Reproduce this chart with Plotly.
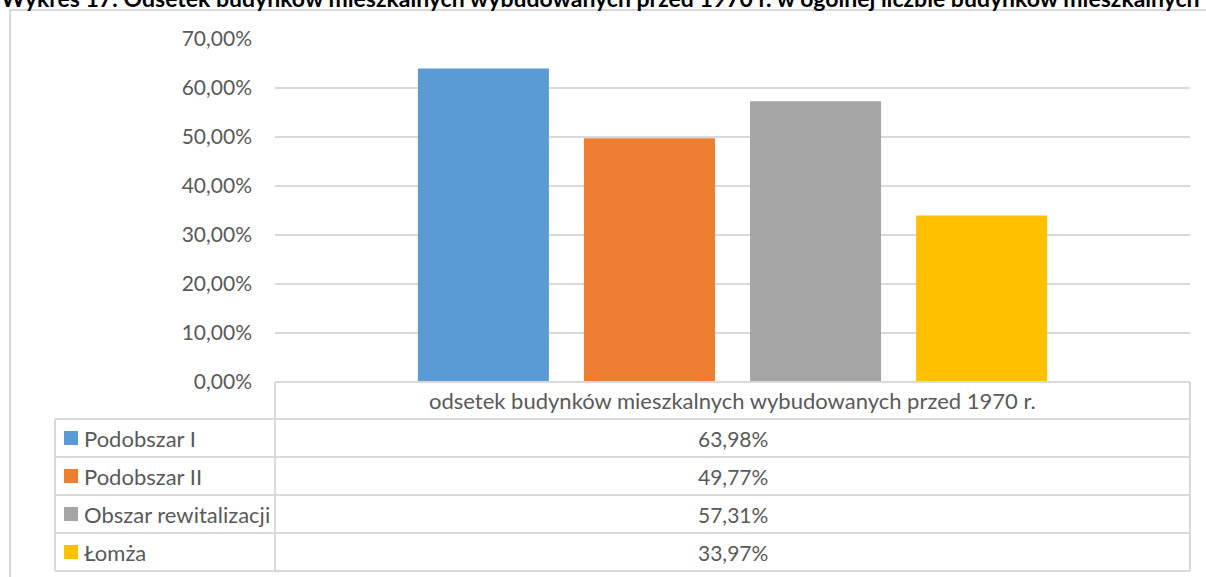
import plotly.graph_objects as go

# Data
category = "odsetek budynków mieszkalnych wybudowanych przed 1970 r."
series = ["Podobszar I", "Podobszar II", "Obszar rewitalizacji", "Łomża"]
values = [0.6398, 0.4977, 0.5731, 0.3397]
colors = ["#5b9bd5", "#ed7d31", "#a5a5a5", "#ffc000"]
title = ("Wykres 17: Odsetek budynków mieszkalnych wybudowanych przed 1970 r. "
         "w ogólnej liczbie budynków mieszkalnych")

W, H = 1206, 577
FONT = "Lato"
GREY = "#595959"
LINE = "#d9d9d9"


def px(x):
    return x / W


def py(y):
    return 1 - y / H


fig = go.Figure()
for name, val, col in zip(series, values, colors):
    fig.add_trace(go.Bar(x=[category], y=[val], name=name, marker_color=col,
                         marker_line_width=0, showlegend=False))

# Table geometry (pixels)
left, mid, right = 55, 275, 1190
rows = [382, 419, 457, 495, 533, 571]

shapes = [
    # outer chart border
    dict(type="rect", xref="paper", yref="paper", x0=px(10), x1=px(1225),
         y0=py(10), y1=py(600), line=dict(color=LINE, width=2)),
]
# horizontal table lines
for i, y in enumerate(rows):
    x0 = mid if i == 0 else left
    shapes.append(dict(type="line", xref="paper", yref="paper", x0=px(x0), x1=px(right),
                       y0=py(y), y1=py(y), line=dict(color=LINE, width=2)))
# vertical table lines
for x, y0 in [(left, rows[1]), (mid, rows[0]), (right, rows[0])]:
    shapes.append(dict(type="line", xref="paper", yref="paper", x0=px(x), x1=px(x),
                       y0=py(y0), y1=py(rows[-1]), line=dict(color=LINE, width=2)))

annotations = [
    dict(text=title, xref="paper", yref="paper", x=px(-1), y=py(-2), xanchor="left",
         yanchor="middle", showarrow=False,
         font=dict(family="Lato", size=23, color="#000000", weight="bold")),
    dict(text=category, xref="paper", yref="paper", x=px((mid + right) / 2),
         y=py((rows[0] + rows[1]) / 2), xanchor="center", yanchor="middle",
         showarrow=False, font=dict(family=FONT, size=22, color=GREY)),
]
for i, (name, val, col) in enumerate(zip(series, values, colors)):
    yc = (rows[i + 1] + rows[i + 2]) / 2
    shapes.append(dict(type="rect", xref="paper", yref="paper", x0=px(64), x1=px(78),
                       y0=py(yc - 7), y1=py(yc + 7), fillcolor=col, line_width=0))
    annotations.append(dict(text=name, xref="paper", yref="paper", x=px(82), y=py(yc),
                            xanchor="left", yanchor="middle", showarrow=False,
                            font=dict(family=FONT, size=22, color=GREY)))
    annotations.append(dict(text=f"{val * 100:.2f}%".replace(".", ","), xref="paper",
                            yref="paper", x=px((mid + right) / 2), y=py(yc),
                            xanchor="center", yanchor="middle", showarrow=False,
                            font=dict(family=FONT, size=21, color=GREY)))

fig.update_layout(
    width=W, height=H,
    margin=dict(l=0, r=0, t=0, b=0, autoexpand=False),
    paper_bgcolor="white", plot_bgcolor="white",
    separators=", ",
    barmode="group", bargap=0.274, bargroupgap=0.211,
    shapes=shapes, annotations=annotations,
    xaxis=dict(domain=[px(mid), px(right)], showticklabels=False, showgrid=False,
               zeroline=False, showline=False, automargin=False),
    yaxis=dict(domain=[py(382), py(39)], range=[0, 0.7], dtick=0.1, tickformat=".2%",
               showgrid=True, gridcolor=LINE, gridwidth=2, zeroline=False,
               ticklabelstandoff=22, automargin=False,
               tickfont=dict(family=FONT, size=21, color=GREY)),
)

# pin the graph to the top-left corner of the page
pin = ("document.body.style.margin='0';"
       "document.body.style.overflow='hidden';"
       "var gd=document.getElementById('{plot_id}');"
       "gd.style.position='fixed';gd.style.top='0';gd.style.left='0';")
fig.write_html("out.html", config={"displayModeBar": False}, post_script=pin)
